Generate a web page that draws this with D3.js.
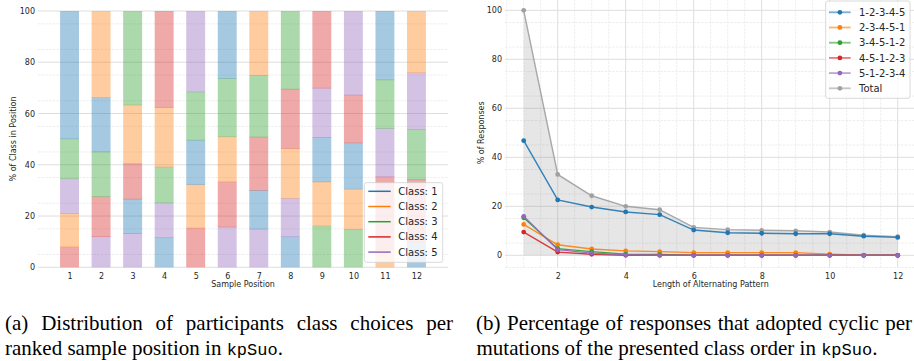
<!DOCTYPE html>
<html>
<head>
<meta charset="utf-8">
<script src="https://cdn.jsdelivr.net/npm/d3@7"></script>
<style>
body { margin: 0; background: #fff; }
svg { display: block; }
text { font-family: "DejaVu Sans", sans-serif; fill: #262626; }
.cap { font-family: "Liberation Serif", serif; fill: #000; font-size: 21px; }
.mono { font-family: "Liberation Mono", monospace; font-size: 17px; }
</style>
</head>
<body>
<svg id="chart" width="914" height="361"></svg>
<script>
// ---- (a) class share per ranked sample position ----------------------------
var positions = [1, 2, 3, 4, 5, 6, 7, 8, 9, 10, 11, 12];
var classNames = ["Class: 1", "Class: 2", "Class: 3", "Class: 4", "Class: 5"];
var class1 = [50.0, 21.2, 13.5, 11.4, 17.4, 26.4, 15.1, 11.8, 17.4, 18.0, 27.0, 9.5];
var class2 = [13.0, 33.9, 22.9, 23.2, 16.9, 17.6, 25.2, 19.4, 17.2, 15.7, 6.7, 24.2];
var class3 = [15.6, 17.5, 36.8, 14.0, 18.8, 22.8, 24.1, 30.6, 16.0, 14.7, 19.0, 19.6];
var class4 = [7.8, 15.6, 13.8, 37.8, 15.2, 17.6, 20.8, 23.2, 30.2, 18.7, 28.5, 24.6];
var class5 = [13.6, 11.8, 13.0, 13.6, 31.7, 15.6, 14.8, 15.0, 19.2, 32.9, 18.8, 22.1];
// stacking order per position, bottom to top (class numbers)
var stackOrder = [
    [4, 2, 5, 3, 1], [5, 4, 3, 1, 2], [5, 1, 4, 2, 3], [1, 5, 3, 2, 4],
    [4, 2, 1, 3, 5], [5, 4, 2, 3, 1], [5, 1, 4, 3, 2], [1, 5, 2, 4, 3],
    [3, 2, 1, 5, 4], [3, 2, 1, 4, 5], [2, 4, 5, 3, 1], [1, 4, 3, 5, 2]
];

// ---- (b) cyclic permutations vs length of alternating pattern ---------------
var patternLengths = [1, 2, 3, 4, 5, 6, 7, 8, 9, 10, 11, 12];
var seqNames = ["1-2-3-4-5", "2-3-4-5-1", "3-4-5-1-2", "4-5-1-2-3", "5-1-2-3-4", "Total"];
var seq12345 = [46.8, 22.6, 19.7, 17.7, 16.6, 10.3, 9.2, 9.0, 8.8, 8.8, 7.8, 7.3];
var seq23451 = [12.6, 4.3, 2.6, 1.8, 1.5, 1.1, 1.1, 1.1, 1.1, 0.5, 0, 0];
var seq34512 = [15.3, 2.7, 1.5, 0.5, 0.3, 0, 0, 0, 0, 0, 0, 0];
var seq45123 = [9.5, 1.3, 0.4, 0, 0, 0, 0, 0, 0, 0, 0, 0];
var seq51234 = [15.9, 2.3, 0.9, 0.2, 0, 0, 0, 0, 0, 0, 0, 0];
var seqTotal = [100, 33.0, 24.3, 20.0, 18.6, 11.4, 10.5, 10.2, 10.0, 9.5, 8.2, 7.6];

var tab10 = ["#1f77b4", "#ff7f0e", "#2ca02c", "#d62728", "#9467bd"];
var totalColor = "#a0a0a0";

var svg = d3.select("#chart");
var majorGrid = "#dedede", minorGrid = "#e8e8e8";

// ===========================================================================
// chart (a)
var xA = d3.scaleLinear().domain([0, 13]).range([38, 448]);
var yA = d3.scaleLinear().domain([0, 100]).range([267.3, 11]);
var gA = svg.append("g");

gA.selectAll("line.minor")
    .data(d3.range(5, 100, 10))
    .enter().append("line")
    .attr("x1", xA(0)).attr("x2", xA(13))
    .attr("y1", d => yA(d)).attr("y2", d => yA(d))
    .attr("stroke", minorGrid).attr("stroke-width", 0.8)
    .attr("stroke-dasharray", "2.5,1.2");
gA.selectAll("line.major")
    .data(d3.range(0, 101, 20))
    .enter().append("line")
    .attr("x1", xA(0)).attr("x2", xA(13))
    .attr("y1", d => yA(d)).attr("y2", d => yA(d))
    .attr("stroke", majorGrid).attr("stroke-width", 1);

var classShares = [class1, class2, class3, class4, class5];
var segments = [];
positions.forEach(function (p, i) {
    var base = 0;
    stackOrder[i].forEach(function (c) {
        var v = classShares[c - 1][i];
        segments.push({ pos: p, cls: c, y0: base, y1: base + v });
        base += v;
    });
});
gA.selectAll("rect.seg")
    .data(segments)
    .enter().append("rect")
    .attr("x", d => xA(d.pos - 0.3))
    .attr("width", d => xA(d.pos + 0.3) - xA(d.pos - 0.3))
    .attr("y", d => yA(d.y1) - (d.y1 < 99.9 ? 0.6 : 0))
    .attr("height", d => yA(d.y0) - yA(d.y1) + (d.y1 < 99.9 ? 0.6 : 0))
    .attr("fill", d => tab10[d.cls - 1])
    .attr("fill-opacity", 0.4);

var axA = gA.append("g").attr("transform", "translate(0,267.3)")
    .call(d3.axisBottom(xA).tickValues(positions).tickSize(0).tickPadding(6));
var ayA = gA.append("g").attr("transform", "translate(38,0)")
    .call(d3.axisLeft(yA).tickValues(d3.range(0, 101, 20)).tickSize(0).tickPadding(3));
[axA, ayA].forEach(function (a) {
    a.select(".domain").remove();
    a.selectAll("text").attr("font-size", 8).attr("fill", "#262626")
        .attr("font-family", "DejaVu Sans");
});
gA.append("text").attr("x", 243).attr("y", 286.5)
    .attr("text-anchor", "middle").attr("font-size", 8).text("Sample Position");
gA.append("text").attr("transform", "translate(16,139) rotate(-90)")
    .attr("text-anchor", "middle").attr("font-size", 8).text("% of Class in Position");

var legA = gA.append("g").attr("transform", "translate(364.3,182.7)");
legA.append("rect").attr("width", 78.4).attr("height", 79.6).attr("rx", 2)
    .attr("fill", "#fff").attr("fill-opacity", 0.8)
    .attr("stroke", "#d0d0d0").attr("stroke-width", 0.8);
classNames.forEach(function (name, i) {
    var yy = 8.6 + i * 15.2;
    legA.append("line").attr("x1", 4).attr("x2", 26.4)
        .attr("y1", yy).attr("y2", yy)
        .attr("stroke", tab10[i]).attr("stroke-width", 1.5);
    legA.append("text").attr("x", 34).attr("y", yy + 3.6)
        .attr("font-size", 10).text(name);
});

// ===========================================================================
// chart (b)
var xB = d3.scaleLinear().domain([0.45, 12.55]).range([505, 916.4]);
var yB = d3.scaleLinear().domain([-5, 105]).range([267.55, -1.95]);
var gB = svg.append("g");

gB.selectAll("line.vminor")
    .data(d3.range(1, 25, 2).map(d => d / 2).concat(d3.range(1, 13, 2)))
    .enter().append("line")
    .attr("x1", d => xB(d)).attr("x2", d => xB(d))
    .attr("y1", yB(-5)).attr("y2", yB(105))
    .attr("stroke", minorGrid).attr("stroke-width", 0.8)
    .attr("stroke-dasharray", "2.5,1.2");
gB.selectAll("line.hminor")
    .data(d3.range(-5, 106, 10))
    .enter().append("line")
    .attr("x1", xB(0.45)).attr("x2", xB(12.55))
    .attr("y1", d => yB(d)).attr("y2", d => yB(d))
    .attr("stroke", minorGrid).attr("stroke-width", 0.8)
    .attr("stroke-dasharray", "2.5,1.2");
gB.selectAll("line.vmajor")
    .data(d3.range(2, 13, 2))
    .enter().append("line")
    .attr("x1", d => xB(d)).attr("x2", d => xB(d))
    .attr("y1", yB(-5)).attr("y2", yB(105))
    .attr("stroke", majorGrid).attr("stroke-width", 1);
gB.selectAll("line.hmajor")
    .data(d3.range(0, 101, 20))
    .enter().append("line")
    .attr("x1", xB(0.45)).attr("x2", xB(12.55))
    .attr("y1", d => yB(d)).attr("y2", d => yB(d))
    .attr("stroke", majorGrid).attr("stroke-width", 1);

var area = d3.area()
    .x((d, i) => xB(patternLengths[i]))
    .y0(yB(0)).y1(d => yB(d));
gB.append("path").datum(seqTotal).attr("d", area)
    .attr("fill", "#808080").attr("fill-opacity", 0.2);

var line = d3.line().x((d, i) => xB(patternLengths[i])).y(d => yB(d));
// drawing order: total first, then the five permutations
var seriesList = [seqTotal, seq12345, seq23451, seq34512, seq45123, seq51234];
var seriesColors = [totalColor].concat(tab10);
seriesList.forEach(function (vals, k) {
    var col = seriesColors[k];
    gB.append("path").datum(vals).attr("d", line)
        .attr("fill", "none").attr("stroke", col)
        .attr("stroke-width", 1.4).attr("stroke-opacity", 0.9);
    gB.selectAll(null).data(vals).enter().append("circle")
        .attr("cx", (d, i) => xB(patternLengths[i]))
        .attr("cy", d => yB(d))
        .attr("r", 2.4).attr("fill", col);
});

var axB = gB.append("g").attr("transform", "translate(0,267.55)")
    .call(d3.axisBottom(xB).tickValues(d3.range(2, 13, 2)).tickSize(0).tickPadding(6));
var ayB = gB.append("g").attr("transform", "translate(505,0)")
    .call(d3.axisLeft(yB).tickValues(d3.range(0, 101, 20)).tickSize(0).tickPadding(3));
[axB, ayB].forEach(function (a) {
    a.select(".domain").remove();
    a.selectAll("text").attr("font-size", 8).attr("fill", "#262626")
        .attr("font-family", "DejaVu Sans");
});
gB.append("text").attr("x", 710.7).attr("y", 286.5)
    .attr("text-anchor", "middle").attr("font-size", 8).text("Length of Alternating Pattern");
gB.append("text").attr("transform", "translate(484,132.8) rotate(-90)")
    .attr("text-anchor", "middle").attr("font-size", 8).text("% of Responses");

var legB = gB.append("g").attr("transform", "translate(825.7,1)");
legB.append("rect").attr("width", 84.3).attr("height", 97.3).attr("rx", 2)
    .attr("fill", "#fff").attr("fill-opacity", 0.8)
    .attr("stroke", "#d0d0d0").attr("stroke-width", 0.8);
var legColors = tab10.concat([totalColor]);
seqNames.forEach(function (name, i) {
    var yy = 11.3 + i * 15.2;
    var col = legColors[i];
    legB.append("line").attr("x1", 3.3).attr("x2", 25)
        .attr("y1", yy).attr("y2", yy)
        .attr("stroke", col).attr("stroke-width", 1.8).attr("stroke-opacity", 0.6);
    legB.append("circle").attr("cx", 14.2).attr("cy", yy).attr("r", 2.4)
        .attr("fill", col);
    legB.append("text").attr("x", 33.3).attr("y", yy + 3.6)
        .attr("font-size", 10).text(name);
});

// ===========================================================================
// captions
function justify(sel, width) {
    var n = sel.text().split(" ").length - 1;
    var w = sel.node().getComputedTextLength();
    if (n > 0) sel.attr("word-spacing", (width - w) / n);
}
var capA1 = svg.append("text").attr("class", "cap").attr("x", 5).attr("y", 329.5)
    .text("(a) Distribution of participants class choices per");
justify(capA1, 448);
var capA2 = svg.append("text").attr("class", "cap").attr("x", 5).attr("y", 354.5);
capA2.append("tspan").text("ranked sample position in ");
capA2.append("tspan").attr("class", "mono").text("kpSuo");
capA2.append("tspan").text(".");

var capB1 = svg.append("text").attr("class", "cap").attr("x", 476).attr("y", 329.5)
    .text("(b) Percentage of responses that adopted cyclic per");
justify(capB1, 436);
var capB2 = svg.append("text").attr("class", "cap").attr("x", 476.5).attr("y", 354.5);
capB2.append("tspan").text("mutations of the presented class order in ");
capB2.append("tspan").attr("class", "mono").text("kpSuo");
capB2.append("tspan").text(".");
</script>
</body>
</html>
